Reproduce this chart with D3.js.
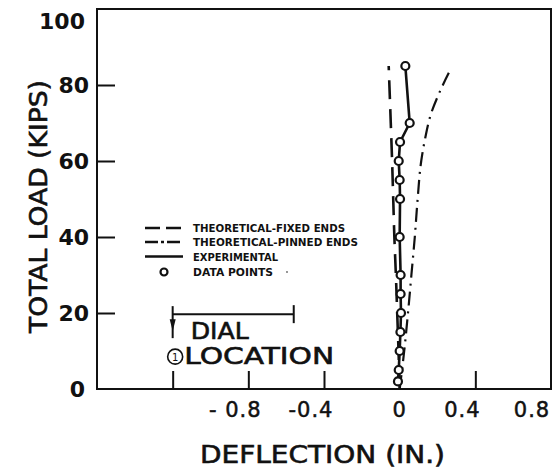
<!DOCTYPE html>
<html><head><meta charset="utf-8">
<script src="https://cdn.jsdelivr.net/npm/d3@7"></script>
<style>body{margin:0;background:#fff;}svg{display:block;}</style>
</head><body>
<script>
// Experimental data points: load (kips) and deflection (in.)
const expLoad = [2, 5, 10, 15, 20, 25, 30, 40, 50, 55, 60, 65, 70, 85];
const expDefl = [-0.009, -0.005, 0.0, 0.004, 0.007, 0.005, 0.005, 0.0, 0.002, 0.0, -0.005, 0.002, 0.053, 0.030];
// Theoretical - fixed ends
const fixedLoad = [0, 10, 20, 30, 40, 50, 60, 70, 85];
const fixedDefl = [0.0, -0.006, -0.013, -0.020, -0.028, -0.034, -0.040, -0.047, -0.058];
// Theoretical - pinned ends
const pinLoad = [0, 10, 20, 30, 40, 50, 60, 66, 72, 78, 84];
const pinDefl = [0.0, 0.024, 0.044, 0.062, 0.080, 0.095, 0.114, 0.135, 0.163, 0.21, 0.268];
// Axes
const xTicks = [-1.2, -0.8, -0.4, 0.4, 0.8];
const xTickLabels = ["", "- 0.8", "-0.4", "0", "0.4", "0.8"];
const xLabelValues = [-1.2, -0.8, -0.4, 0, 0.4, 0.8];
const yTicks = [0, 20, 40, 60, 80, 100];
const legendLabels = ["THEORETICAL-FIXED ENDS", "THEORETICAL-PINNED ENDS", "EXPERIMENTAL", "DATA POINTS"];

const W = 552, H = 471;
const x = d3.scaleLinear().domain([-1.6, 0.8]).range([97, 551]);
const y = d3.scaleLinear().domain([0, 100]).range([389, 9]);
const ink = "#111";

const svg = d3.select("body").append("svg").attr("width", W).attr("height", H);
svg.append("rect").attr("width", W).attr("height", H).attr("fill", "#fff");

// frame
svg.append("rect").attr("x", x(-1.6)).attr("y", y(100))
  .attr("width", x(0.8) - x(-1.6)).attr("height", y(0) - y(100))
  .attr("fill", "none").attr("stroke", ink).attr("stroke-width", 2);

// y axis ticks (inward)
const yAxis = d3.axisRight(y).tickValues(yTicks.filter(d => d > 0 && d < 100)).tickSize(18).tickFormat("");
svg.append("g").attr("transform", `translate(${x(-1.6)},0)`).call(yAxis)
  .call(g => g.select(".domain").remove())
  .call(g => g.selectAll("line").attr("stroke", ink).attr("stroke-width", 2));
// y labels
svg.append("g").selectAll("text").data(yTicks).join("text")
  .attr("x", d => (d === 100 || d === 0) ? 85 : 89).attr("y", d => y(d) + (d === 100 ? 20 : 8))
  .attr("text-anchor", "end")
  .attr("font-family", "DejaVu Sans").attr("font-weight", "bold").attr("font-size", 22)
  .attr("fill", ink).text(d => d);

// x axis ticks (inward, upward)
const xAxis = d3.axisTop(x).tickValues(xTicks.filter(d => d < 0.8)).tickSize(18).tickFormat("");
svg.append("g").attr("transform", `translate(0,${y(0)})`).call(xAxis)
  .call(g => g.select(".domain").remove())
  .call(g => g.selectAll("line").attr("stroke", ink).attr("stroke-width", 2));
// x labels
svg.append("g").selectAll("text").data(xLabelValues).join("text")
  .attr("x", d => x(d) + (d === 0 ? 0 : d === 0.8 ? -19 : -13))
  .attr("y", 417).attr("text-anchor", "middle")
  .attr("font-family", "DejaVu Sans").attr("font-size", 21).attr("letter-spacing", 1)
  .attr("stroke", ink).attr("stroke-width", 0.5)
  .attr("fill", ink).text((d, i) => xTickLabels[i]);

// axis titles
svg.append("text").attr("x", 200).attr("y", 463)
  .attr("font-family", "DejaVu Sans").attr("font-size", 24)
  .attr("textLength", 245).attr("lengthAdjust", "spacingAndGlyphs")
  .attr("stroke", ink).attr("stroke-width", 0.6)
  .attr("fill", ink).text("DEFLECTION (IN.)");
svg.append("text").attr("transform", "translate(47,333) rotate(-90)")
  .attr("font-family", "DejaVu Sans").attr("font-size", 25)
  .attr("textLength", 253).attr("lengthAdjust", "spacingAndGlyphs")
  .attr("stroke", ink).attr("stroke-width", 0.6)
  .attr("fill", ink).text("TOTAL LOAD (KIPS)");

// curves
const curveLine = d3.line().x(d => x(d[1])).y(d => y(d[0])).curve(d3.curveMonotoneY);
svg.append("path").datum(fixedLoad.map((l, i) => [l, fixedDefl[i]]))
  .attr("d", curveLine).attr("fill", "none").attr("stroke", ink)
  .attr("stroke-width", 2.6).attr("stroke-dasharray", "19,10");
svg.append("path").datum(pinLoad.map((l, i) => [l, pinDefl[i]]))
  .attr("d", curveLine).attr("fill", "none").attr("stroke", ink)
  .attr("stroke-width", 2.2).attr("stroke-dasharray", "14,6,2,6");
const expPts = expLoad.map((l, i) => [l, expDefl[i]]);
svg.append("path").datum(expPts)
  .attr("d", d3.line().x(d => x(d[1])).y(d => y(d[0])))
  .attr("fill", "none").attr("stroke", ink).attr("stroke-width", 2.6);
svg.append("g").selectAll("circle").data(expPts).join("circle")
  .attr("cx", d => x(d[1])).attr("cy", d => y(d[0])).attr("r", 4)
  .attr("fill", "#fff").attr("stroke", ink).attr("stroke-width", 2.2);

// legend
const lx0 = 145, lx1 = 182, tx = 193;
const rowsY = [228, 242, 256.5, 272];
const baseY = [232, 246, 261, 275.5];
const lens = [152, 165, 85, 80];
svg.append("line").attr("x1", lx0).attr("x2", lx1).attr("y1", rowsY[0]).attr("y2", rowsY[0])
  .attr("stroke", ink).attr("stroke-width", 2.4).attr("stroke-dasharray", "15,6");
svg.append("line").attr("x1", lx0).attr("x2", lx1).attr("y1", rowsY[1]).attr("y2", rowsY[1])
  .attr("stroke", ink).attr("stroke-width", 2.4).attr("stroke-dasharray", "13,3,3,3");
svg.append("line").attr("x1", lx0).attr("x2", lx1 + 1).attr("y1", rowsY[2]).attr("y2", rowsY[2])
  .attr("stroke", ink).attr("stroke-width", 2.4);
svg.append("circle").attr("cx", 164).attr("cy", rowsY[3]).attr("r", 3.5)
  .attr("fill", "#fff").attr("stroke", ink).attr("stroke-width", 2.2);
svg.append("g").selectAll("text").data(legendLabels).join("text")
  .attr("x", tx).attr("y", (d, i) => baseY[i])
  .attr("font-family", "DejaVu Sans").attr("font-weight", "bold").attr("font-size", 10)
  .attr("textLength", (d, i) => lens[i]).attr("lengthAdjust", "spacingAndGlyphs")
  .attr("fill", ink).text(d => d);
svg.append("circle").attr("cx", 287).attr("cy", 272).attr("r", 0.9).attr("fill", "#666");

// dial location annotation
const bx0 = x(-1.2), bx1 = x(-0.56), by = y(19.7);
const ann = svg.append("g").attr("stroke", ink).attr("stroke-width", 2).attr("fill", "none");
ann.append("line").attr("x1", bx0).attr("x2", bx1).attr("y1", by).attr("y2", by);
ann.append("line").attr("x1", bx1).attr("x2", bx1).attr("y1", by - 9).attr("y2", by + 9);
ann.append("line").attr("x1", bx0).attr("x2", bx0).attr("y1", by - 8).attr("y2", by + 24);
svg.append("path").attr("d", `M${bx0 - 3},${by + 5} L${bx0 + 3},${by + 5} L${bx0},${by + 17} Z`).attr("fill", ink);
svg.append("circle").attr("cx", bx0 + 2.5).attr("cy", by + 42.5).attr("r", 7.5)
  .attr("fill", "#fff").attr("stroke", ink).attr("stroke-width", 1.6);
svg.append("text").attr("x", bx0 + 2.5).attr("y", by + 46.5).attr("text-anchor", "middle")
  .attr("font-family", "DejaVu Sans").attr("font-size", 10).attr("fill", ink).text("1");
svg.append("text").attr("x", bx0 + 18).attr("y", by + 25)
  .attr("font-family", "DejaVu Sans").attr("font-size", 23)
  .attr("stroke", ink).attr("stroke-width", 0.6)
  .attr("textLength", 58).attr("lengthAdjust", "spacingAndGlyphs").attr("fill", ink).text("DIAL");
svg.append("text").attr("x", bx0 + 11.5).attr("y", by + 50)
  .attr("font-family", "DejaVu Sans").attr("font-size", 23)
  .attr("stroke", ink).attr("stroke-width", 0.6)
  .attr("textLength", 150).attr("lengthAdjust", "spacingAndGlyphs").attr("fill", ink).text("LOCATION");
</script>
</body></html>
